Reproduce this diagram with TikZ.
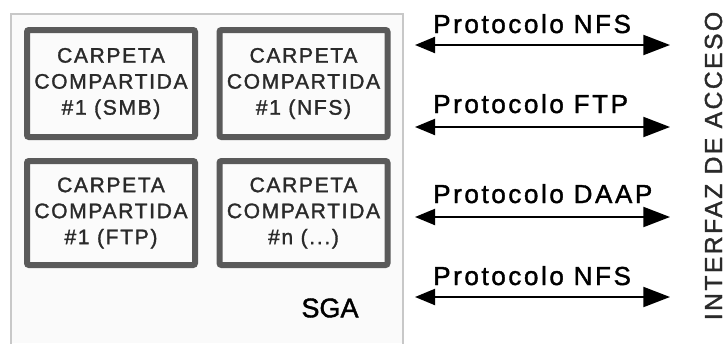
\documentclass[tikz,border=0pt]{standalone}
\usepackage{fontspec}
\setmainfont[FakeBold=1.5]{Liberation Sans}
\newfontfamily\boxfont[LetterSpace=8,FakeBold=1.5]{Liberation Sans}
\newfontfamily\labfont[LetterSpace=10,FakeBold=1.5]{Liberation Sans}
\newfontfamily\vertfont[LetterSpace=10,FakeBold=1.5]{Liberation Sans}
\usetikzlibrary{arrows.meta}
\definecolor{boxline}{HTML}{5A5A5A}
\definecolor{boxfill}{HTML}{FBFBFB}
\definecolor{sgaline}{HTML}{C8C8C8}
\definecolor{txt}{HTML}{2A2A2A}
\begin{document}
\begin{tikzpicture}[x=0.75pt,y=-0.75pt,
  folder/.style={draw=boxline, line width=4.5pt, fill=boxfill, rounded corners=1.5pt,
    minimum width=126pt, inner sep=0pt, align=center, text=txt,
    font=\boxfont\fontsize{15.75pt}{19.5pt}\selectfont},
  proto/.style={anchor=base west, inner sep=0pt, text=black,
    font=\labfont\fontsize{19.5pt}{22pt}\selectfont},
  link/.style={line width=1.5pt, {Triangle[length=15pt,width=12pt]}-{Triangle[length=20pt,width=15pt]}}]
\useasboundingbox (0,0) rectangle (724,343);
\fill[white] (0,0) rectangle (724,343);
% SGA container
\fill[fill=white!98!black] (11,14) rectangle (403,343);
\draw[sgaline, line width=1.2pt] (11,345) -- (11,14) -- (403,14) -- (403,345);
% folders
\node[folder, minimum height=80.25pt] (f1) at (111,83.5) {CARPETA\\COMPARTIDA\\\#1 (SMB)};
\node[folder, minimum height=80.25pt] (f2) at (303.5,83.5) {CARPETA\\COMPARTIDA\\\#1 (NFS)};
\node[folder, minimum height=78pt] (f3) at (111,213) {CARPETA\\COMPARTIDA\\\#1 (FTP)};
\node[folder, minimum height=78pt] (f4) at (303.5,213) {CARPETA\\COMPARTIDA\\\#n (...)};
\node[inner sep=0pt, text=black, font=\fontsize{20.25pt}{24pt}\selectfont] (sga) at (330,308) {SGA};
% protocol arrows
\coordinate (l1) at (415,45);  \coordinate (r1) at (670,45);
\coordinate (l2) at (415,127); \coordinate (r2) at (670,127);
\coordinate (l3) at (415,217); \coordinate (r3) at (670,217);
\coordinate (l4) at (415,297); \coordinate (r4) at (670,297);
\draw[link] (l1) -- (r1);
\draw[link] (l2) -- (r2);
\draw[link] (l3) -- (r3);
\draw[link] (l4) -- (r4);
\node[proto] (p1) at (433,33) {Protocolo NFS};
\node[proto] (p2) at (433,113) {Protocolo FTP};
\node[proto] (p3) at (433,203) {Protocolo DAAP};
\node[proto] (p4) at (433,285) {Protocolo NFS};
% access interface
\node[rotate=90, inner sep=0pt, text=txt, font=\vertfont\fontsize{18.5pt}{20pt}\selectfont] (ia) at (713.5,166) {INTERFAZ DE ACCESO};
\end{tikzpicture}
\end{document}
